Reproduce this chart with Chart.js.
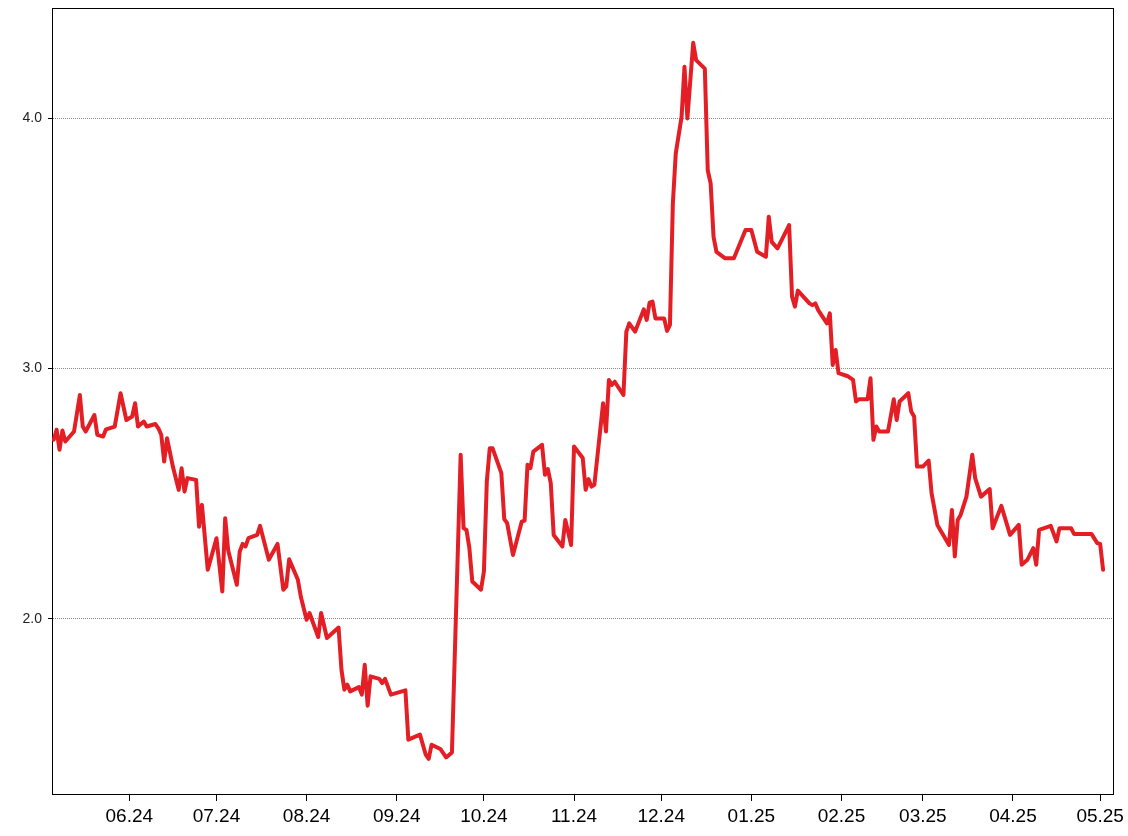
<!DOCTYPE html>
<html>
<head>
<meta charset="utf-8">
<script src="https://cdn.jsdelivr.net/npm/chart.js@4.4.1/dist/chart.umd.min.js"></script>
<style>
  html, body { margin: 0; padding: 0; background: #fff; }
  #wrap { width: 1128px; height: 836px; }
</style>
</head>
<body>
<div id="wrap"><canvas id="priceChart"></canvas></div>
<script>
// daily closes
const dates = [
  "2024-05-06","2024-05-07","2024-05-08","2024-05-09","2024-05-10","2024-05-13","2024-05-15","2024-05-16","2024-05-17","2024-05-20",
  "2024-05-21","2024-05-23","2024-05-24","2024-05-27","2024-05-29","2024-05-31","2024-06-02","2024-06-03","2024-06-04","2024-06-06",
  "2024-06-07","2024-06-10","2024-06-11","2024-06-12","2024-06-13","2024-06-14","2024-06-16","2024-06-18","2024-06-19","2024-06-20",
  "2024-06-21","2024-06-24","2024-06-25","2024-06-26","2024-06-28","2024-07-01","2024-07-03","2024-07-04","2024-07-05","2024-07-08",
  "2024-07-09","2024-07-10","2024-07-11","2024-07-12","2024-07-15","2024-07-16","2024-07-19","2024-07-22","2024-07-24","2024-07-25",
  "2024-07-26","2024-07-29","2024-07-30","2024-08-01","2024-08-02","2024-08-05","2024-08-06","2024-08-08","2024-08-12","2024-08-13",
  "2024-08-14","2024-08-15","2024-08-16","2024-08-19","2024-08-20","2024-08-21","2024-08-22","2024-08-23","2024-08-26","2024-08-27",
  "2024-08-28","2024-08-30","2024-09-04","2024-09-05","2024-09-09","2024-09-11","2024-09-12","2024-09-13","2024-09-16","2024-09-18",
  "2024-09-20","2024-09-23","2024-09-24","2024-09-25","2024-09-26","2024-09-27","2024-09-30","2024-10-01","2024-10-02","2024-10-03",
  "2024-10-04","2024-10-07","2024-10-08","2024-10-09","2024-10-11","2024-10-14","2024-10-15","2024-10-16","2024-10-17","2024-10-18",
  "2024-10-21","2024-10-22","2024-10-23","2024-10-24","2024-10-25","2024-10-28","2024-10-29","2024-10-31","2024-11-01","2024-11-04",
  "2024-11-05","2024-11-06","2024-11-07","2024-11-08","2024-11-11","2024-11-12","2024-11-13","2024-11-14","2024-11-15","2024-11-18",
  "2024-11-19","2024-11-20","2024-11-22","2024-11-25","2024-11-26","2024-11-27","2024-11-28","2024-11-29","2024-12-02","2024-12-03",
  "2024-12-04","2024-12-05","2024-12-06","2024-12-08","2024-12-09","2024-12-10","2024-12-12","2024-12-13","2024-12-16","2024-12-17",
  "2024-12-18","2024-12-19","2024-12-20","2024-12-23","2024-12-26","2024-12-30","2025-01-01","2025-01-03","2025-01-06","2025-01-07",
  "2025-01-08","2025-01-10","2025-01-14","2025-01-15","2025-01-16","2025-01-17","2025-01-21","2025-01-22","2025-01-23","2025-01-24",
  "2025-01-27","2025-01-28","2025-01-29","2025-01-30","2025-01-31","2025-02-03","2025-02-05","2025-02-06","2025-02-07","2025-02-10",
  "2025-02-11","2025-02-12","2025-02-13","2025-02-14","2025-02-17","2025-02-19","2025-02-20","2025-02-21","2025-02-24","2025-02-25",
  "2025-02-26","2025-02-27","2025-03-01","2025-03-03","2025-03-04","2025-03-06","2025-03-10","2025-03-11","2025-03-12","2025-03-13",
  "2025-03-14","2025-03-16","2025-03-18","2025-03-19","2025-03-21","2025-03-24","2025-03-25","2025-03-28","2025-03-31","2025-04-03",
  "2025-04-04","2025-04-06","2025-04-08","2025-04-09","2025-04-10","2025-04-14","2025-04-16","2025-04-17","2025-04-21","2025-04-22",
  "2025-04-28","2025-04-30","2025-05-01","2025-05-02"
];
const prices = [
  2.715,2.755,2.675,2.752,2.708,2.748,2.894,2.768,2.748,2.814,
  2.735,2.728,2.757,2.768,2.901,2.794,2.808,2.861,2.768,2.788,
  2.768,2.778,2.761,2.735,2.628,2.721,2.608,2.515,2.601,2.508,
  2.562,2.555,2.368,2.455,2.196,2.322,2.109,2.402,2.275,2.136,
  2.269,2.299,2.289,2.322,2.335,2.371,2.236,2.299,2.116,2.129,
  2.238,2.156,2.089,1.996,2.023,1.927,2.023,1.923,1.965,1.796,
  1.717,1.737,1.710,1.727,1.697,1.816,1.653,1.770,1.760,1.743,
  1.760,1.697,1.714,1.517,1.537,1.457,1.440,1.497,1.480,1.446,
  1.466,2.655,2.362,2.355,2.282,2.149,2.116,2.189,2.548,2.681,
  2.681,2.582,2.398,2.382,2.255,2.388,2.392,2.615,2.602,2.668,
  2.695,2.575,2.598,2.542,2.335,2.289,2.395,2.295,2.688,2.642,
  2.515,2.558,2.528,2.535,2.861,2.748,2.954,2.934,2.947,2.894,
  3.147,3.180,3.147,3.236,3.194,3.263,3.267,3.200,3.200,3.150,
  3.174,3.659,3.859,4.005,4.205,3.999,4.301,4.232,4.198,3.792,
  3.739,3.526,3.466,3.440,3.440,3.553,3.553,3.466,3.446,3.606,
  3.506,3.480,3.573,3.287,3.247,3.311,3.260,3.253,3.260,3.233,
  3.180,3.220,3.014,3.074,2.981,2.970,2.954,2.868,2.877,2.877,
  2.961,2.715,2.768,2.748,2.748,2.877,2.794,2.868,2.901,2.828,
  2.808,2.608,2.608,2.632,2.502,2.375,2.295,2.435,2.249,2.395,
  2.415,2.488,2.655,2.562,2.488,2.518,2.362,2.451,2.335,2.375,
  2.216,2.236,2.282,2.216,2.355,2.371,2.309,2.362,2.362,2.339,
  2.339,2.302,2.299,2.196
];
const monthTicks = ["2024-06-01","2024-07-01","2024-08-01","2024-09-01","2024-10-01","2024-11-01",
                    "2024-12-01","2025-01-01","2025-02-01","2025-03-01","2025-04-01","2025-05-01"];
const monthLabels = ["06.24","07.24","08.24","09.24","10.24","11.24","12.24","01.25","02.25","03.25","04.25","05.25"];
const yTicks = [2.0, 3.0, 4.0];

const points = dates.map((d, i) => ({ x: Date.parse(d), y: prices[i] }));
const tickValues = monthTicks.map(d => Date.parse(d));

// black box round the plot area
const frame = {
  id: "frame",
  beforeDatasetsDraw(chart) {
    const { ctx, chartArea: a } = chart;
    ctx.save();
    ctx.strokeStyle = "#000";
    ctx.lineWidth = 1;
    ctx.strokeRect(Math.round(a.left) + 0.5, Math.round(a.top) + 0.5,
                   Math.round(a.right - a.left), Math.round(a.bottom - a.top));
    ctx.restore();
  }
};

new Chart(document.getElementById("priceChart"), {
  type: "line",
  data: {
    datasets: [{
      data: points,
      borderColor: "#E41E25",
      borderWidth: 4,
      borderJoinStyle: "round",
      borderCapStyle: "round",
      pointRadius: 0,
      tension: 0,
      fill: false
    }]
  },
  options: {
    responsive: true,
    maintainAspectRatio: false,
    animation: false,
    layout: { padding: { top: 8, right: 15, left: 0, bottom: 0 } },
    plugins: { legend: { display: false }, tooltip: { enabled: false } },
    scales: {
      x: {
        type: "linear",
        min: Date.parse("2024-05-05T10:00:00Z"),
        max: Date.parse("2025-05-05T10:00:00Z"),
        afterBuildTicks: s => { s.ticks = tickValues.map(v => ({ value: v })); },
        afterFit: s => { s.height = 42; s.paddingLeft = 0; s.paddingRight = 0; },
        ticks: {
          autoSkip: false,
          maxRotation: 0,
          padding: 4,
          color: "#000",
          font: { family: "'Liberation Sans', Arial, sans-serif", size: 19 },
          callback: (v, i) => monthLabels[i]
        },
        grid: { drawOnChartArea: false, drawTicks: true, tickLength: 7, tickColor: "#000", tickWidth: 1 },
        border: { display: true, color: "#000", width: 1 }
      },
      y: {
        min: 1.30,
        max: 4.44,
        afterBuildTicks: s => { s.ticks = yTicks.map(v => ({ value: v })); },
        afterFit: s => { s.width = 52; s.paddingTop = 0; s.paddingBottom = 0; },
        ticks: {
          padding: 6,
          color: "#222",
          font: { family: "'Liberation Sans', Arial, sans-serif", size: 14 },
          callback: v => Number(v).toFixed(1)
        },
        grid: { color: "#8a8a8a", lineWidth: 1, tickLength: 4, tickColor: "#000", tickBorderDash: [] },
        border: { display: true, color: "#000", width: 1, dash: [1, 1] }
      }
    }
  },
  plugins: [frame]
});
</script>
</body>
</html>
